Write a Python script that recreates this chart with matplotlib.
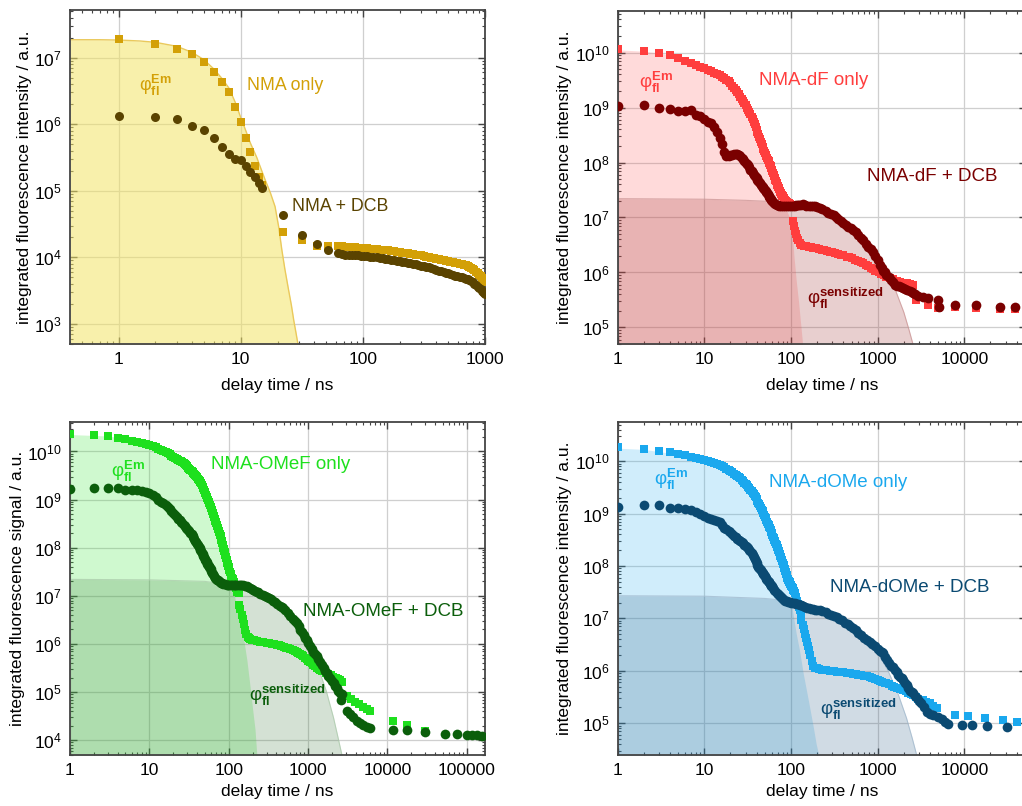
import math
import matplotlib
matplotlib.use("Agg")
import matplotlib.pyplot as plt
from matplotlib.ticker import (FixedLocator, FuncFormatter, LogFormatterMathtext,
                               NullFormatter)

plt.rcParams['font.family'] = ['Liberation Sans', 'DejaVu Sans']
plt.rcParams['mathtext.fontset'] = 'custom'
plt.rcParams['mathtext.rm'] = 'Liberation Sans'
plt.rcParams['mathtext.it'] = 'Liberation Sans:italic'
plt.rcParams['mathtext.bf'] = 'Liberation Sans:bold'

# ============ Panel 1: NMA (intensities in a.u.) ============
p1_t_only = [1, 2, 3, 4, 5, 6, 7, 8, 9, 10, 11, 12, 13, 14, 15, 22, 32, 42, 52, 62,
             67, 72, 77, 82, 87, 92, 97, 102, 108, 115, 122, 130, 137, 145, 152, 160, 170, 180,
             190, 200, 210, 220, 232, 245, 257, 270, 285, 300, 315, 330, 345, 360, 380,
             400, 420, 440, 460, 480, 500, 520, 545, 570, 595, 620, 645, 670, 695, 720, 745,
             770, 795, 820, 845, 870, 895, 920, 940, 960, 980, 1000]
p1_v_only = [1.9e7, 1.6e7, 1.36e7, 1.14e7, 8.5e6, 6.0e6, 4.3e6, 3.05e6, 1.8e6, 1.09e6,
             6.2e5, 3.8e5, 2.4e5, 1.64e5, 1.23e5, 2.4e4, 1.8e4, 1.5e4, 1.47e4, 1.5e4,
             1.47e4, 1.45e4, 1.43e4, 1.42e4, 1.41e4, 1.4e4, 1.39e4, 1.38e4, 1.37e4, 1.35e4,
             1.34e4, 1.32e4, 1.31e4, 1.3e4, 1.28e4, 1.27e4, 1.25e4, 1.24e4, 1.22e4, 1.2e4,
             1.18e4, 1.17e4, 1.15e4, 1.14e4, 1.12e4, 1.1e4, 1.09e4, 1.07e4, 1.05e4, 1.03e4,
             1.01e4, 9.9e3, 9.7e3, 9.5e3, 9.35e3, 9.2e3, 9.05e3, 8.9e3, 8.75e3, 8.6e3,
             8.45e3, 8.3e3, 8.15e3, 8.0e3, 7.9e3, 7.8e3, 7.65e3, 7.5e3, 7.25e3, 7.0e3,
             6.7e3, 6.4e3, 6.1e3, 5.8e3, 5.5e3, 5.2e3, 4.95e3, 4.7e3, 4.5e3, 4.3e3]
p1_t_dcb = [1, 2, 3, 4, 5, 6, 7, 8, 9, 10, 11, 12, 13, 14, 15, 22, 32, 42, 52, 62,
            67, 72, 77, 82, 87, 92, 97, 102, 108, 115, 122, 130, 137, 145, 152, 160, 170, 180,
            190, 200, 210, 220, 232, 245, 257, 270, 285, 300, 315, 330, 345, 360, 380,
            400, 420, 440, 460, 480, 500, 520, 545, 570, 595, 620, 645, 670, 695, 720, 745,
            770, 795, 820, 845, 870, 895, 920, 940, 960, 980, 1000]
p1_v_dcb = [1.35e6, 1.28e6, 1.19e6, 9.5e5, 8.2e5, 6.3e5, 4.6e5, 3.6e5, 3.0e5, 2.95e5,
            2.4e5, 1.95e5, 1.64e5, 1.31e5, 1.1e5, 4.4e4, 2.2e4, 1.6e4, 1.31e4, 1.17e4,
            1.12e4, 1.08e4, 1.08e4, 1.08e4, 1.07e4, 1.07e4, 1.06e4, 1.05e4, 1.04e4, 1.02e4,
            1.01e4, 1.0e4, 9.85e3, 9.7e3, 9.55e3, 9.4e3, 9.25e3, 9.1e3, 8.95e3, 8.8e3,
            8.65e3, 8.5e3, 8.35e3, 8.2e3, 8.05e3, 7.9e3, 7.7e3, 7.5e3, 7.35e3, 7.2e3,
            7.05e3, 6.9e3, 6.7e3, 6.5e3, 6.35e3, 6.2e3, 6.05e3, 5.9e3, 5.75e3, 5.6e3,
            5.45e3, 5.3e3, 5.2e3, 5.1e3, 5.0e3, 4.9e3, 4.8e3, 4.7e3, 4.55e3, 4.4e3,
            4.2e3, 4.0e3, 3.8e3, 3.6e3, 3.45e3, 3.3e3, 3.15e3, 3.0e3, 2.9e3, 2.8e3]
p1_t_em = [0.4, 0.7, 1, 1.5, 2, 3, 4, 5, 6, 7, 8, 9, 10, 11, 12, 13.5, 15.8, 17.5,
           19.1, 20.5, 21.7, 23, 24.6, 26, 27.2, 28.4, 29.5]
p1_v_em = [1.86e7, 1.86e7, 1.84e7, 1.78e7, 1.7e7, 1.48e7, 1.2e7, 9.3e6, 6.8e6, 4.9e6,
           3.5e6, 2.15e6, 1.26e6, 8.0e5, 5.2e5, 3.2e5, 1.48e5, 9.3e4, 5.8e4, 2.8e4,
           1.3e4, 6.6e3, 3.3e3, 1.9e3, 1.12e3, 7.2e2, 4.8e2]

# ============ Panel 2: NMA-dF (dense series given as log10 of intensity) ============
p2_t_only = list(range(1, 81)) + [82, 84, 86, 88, 90, 92, 94, 96, 98, 100,
             104, 108, 111, 114, 118, 121, 126, 132,
             140, 150, 160, 170, 180, 195, 210, 225, 240, 260, 281, 300, 325, 350, 375, 400,
             438, 470, 510, 550, 600, 640, 680, 730, 780, 830, 880, 930, 971, 1030, 1100,
             1180, 1260, 1380, 1500, 1650, 1800, 1970, 2150, 2350, 2570,
             2800, 3800, 4900, 7800, 13800, 25700, 38000]
p2_logv_only = [10.06, 10.03, 9.99, 9.96, 9.90, 9.855, 9.81, 9.78, 9.745, 9.716,
                9.69, 9.66, 9.635, 9.61, 9.585, 9.56, 9.535, 9.505, 9.475, 9.44,
                9.40, 9.36, 9.32, 9.28, 9.24, 9.20, 9.16, 9.12, 9.08, 9.04,
                9.00, 8.96, 8.92, 8.875, 8.83, 8.785, 8.74, 8.695, 8.65, 8.60,
                8.555, 8.51, 8.465, 8.42, 8.375, 8.33, 8.29, 8.25, 8.21, 8.17,
                8.14, 8.11, 8.08, 8.05, 8.02, 7.99, 7.96, 7.93, 7.90, 7.87,
                7.84, 7.81, 7.78, 7.75, 7.72, 7.69, 7.66, 7.63, 7.60, 7.575,
                7.55, 7.53, 7.51, 7.49, 7.47, 7.45, 7.43, 7.415, 7.40, 7.385,
                7.36, 7.34, 7.32, 7.30, 7.285, 7.27, 7.26, 7.25, 7.24, 7.23,
                6.94, 6.84, 6.76, 6.70, 6.62, 6.59, 6.53, 6.50,
                6.49, 6.48, 6.47, 6.46, 6.45, 6.44, 6.42, 6.41, 6.40, 6.39, 6.38, 6.37,
                6.355, 6.34, 6.325, 6.31, 6.29, 6.275, 6.255, 6.235, 6.21, 6.19, 6.17,
                6.14, 6.11, 6.08, 6.055, 6.035, 6.02, 6.0, 5.975, 5.95, 5.925, 5.90,
                5.875, 5.85, 5.83, 5.81, 5.80, 5.79, 5.78,
                5.50, 5.41, 5.35, 5.37, 5.36, 5.34, 5.34]
p2_t_dcb = list(range(1, 61)) + [62, 64, 66, 68, 70, 73, 76, 80, 85, 90, 95, 100, 105,
            110, 115, 120, 125, 130, 138, 145, 150, 160, 170, 180, 190, 200, 215, 230, 250,
            270, 290, 310, 330, 350, 375, 400, 430, 460, 490, 521, 560, 600, 640, 680, 730,
            780, 830, 888, 940, 1000, 1060, 1110, 1160, 1210, 1260, 1340, 1420, 1500, 1580,
            1670, 1770, 1870, 1970, 2080, 2200, 2330, 2460, 2580, 2700, 2930, 3350, 3800,
            4900, 5100, 7800, 13800, 25700, 38000]
p2_logv_dcb = [9.03, 9.04, 8.995, 8.98, 8.94, 8.94, 8.96, 8.87, 8.85, 8.80,
               8.74, 8.72, 8.65, 8.55, 8.44, 8.34, 8.20, 8.11, 8.12, 8.13,
               8.14, 8.15, 8.16, 8.16, 8.14, 8.11, 8.08, 8.06, 8.03, 8.00,
               7.98, 7.95, 7.91, 7.87, 7.84, 7.81, 7.78, 7.75, 7.73, 7.71,
               7.69, 7.67, 7.645, 7.63, 7.60, 7.58, 7.56, 7.54, 7.52, 7.50,
               7.48, 7.46, 7.44, 7.42, 7.40, 7.38, 7.35, 7.33, 7.31, 7.30,
               7.28, 7.26, 7.24, 7.23, 7.22, 7.21, 7.20, 7.20, 7.20, 7.20, 7.20, 7.20, 7.205,
               7.21, 7.22, 7.22, 7.225, 7.23, 7.24, 7.225, 7.21, 7.20, 7.21, 7.215, 7.205,
               7.19, 7.17, 7.15, 7.12, 7.09, 7.065, 7.04, 7.01, 6.98, 6.94, 6.90, 6.86,
               6.83, 6.80, 6.78, 6.73, 6.68, 6.63, 6.59, 6.52, 6.46, 6.42, 6.38, 6.30,
               6.22, 6.14, 6.08, 6.03, 6.00, 5.96, 5.91, 5.86, 5.82, 5.78, 5.76, 5.745,
               5.73, 5.72, 5.70, 5.68, 5.665, 5.65, 5.62, 5.61, 5.58, 5.56, 5.53, 5.50,
               5.38, 5.41, 5.41, 5.38, 5.37]
p2_t_em = [1, 2, 3, 4, 5, 7, 10, 14, 20, 25, 30, 35, 40, 45, 50, 55, 60, 65, 70, 75, 80,
           85, 90, 95, 100, 103, 108, 115, 122, 129, 136]
p2_v_em = [1.12e10, 1.06e10, 9.8e9, 9.0e9, 8.0e9, 6.5e9, 5.2e9, 3.9e9, 2.7e9, 1.75e9,
           1.05e9, 6.5e8, 3.9e8, 2.4e8, 1.45e8, 9.5e7, 6.8e7, 4.8e7, 3.4e7, 2.6e7, 2.0e7,
           1.6e7, 1.3e7, 1.05e7, 8.0e6, 6.0e6, 2.0e6, 7.0e5, 3.0e5, 1.2e5, 5.0e4]
p2_t_sens = [1, 10, 30, 60, 100, 150, 200, 300, 400, 500, 700, 1000, 1300, 1600, 2000, 2300, 2550]
p2_v_sens = [2.2e7, 2.15e7, 2.05e7, 1.95e7, 1.85e7, 1.65e7, 1.45e7, 1.1e7, 8.5e6, 6.8e6,
             4.2e6, 2.0e6, 1.0e6, 4.8e5, 1.9e5, 9.0e4, 5.0e4]

# ============ Panel 3: NMA-OMeF ============
p3_t_only = list(range(1, 101)) + [102, 104, 106, 108, 110, 112, 114, 116, 118, 120, 123,
             126, 129, 133, 136, 140, 146, 150, 155, 161, 167, 173, 180, 186, 195, 210, 230,
             249, 270, 300, 325, 350, 375, 403, 430, 460, 495, 530, 565, 600, 655, 690, 720,
             755, 790, 830, 875, 920, 960, 1010, 1060, 1110, 1170, 1230, 1300, 1360, 1430,
             1500, 1560, 1680, 1800, 1940, 2090, 2250, 2400, 2530, 2670,
             3090, 3500, 3930, 4400, 5000, 5500, 6070, 11700, 17600, 30000]
p3_logv_only = [10.373, 10.35, 10.317, 10.29, 10.25, 10.225, 10.2, 10.18, 10.155, 10.13,
                10.11, 10.085, 10.06, 10.03, 10.01, 9.985, 9.96, 9.94, 9.915, 9.895,
                9.875, 9.85, 9.83, 9.81, 9.795, 9.78, 9.765, 9.75, 9.72, 9.69,
                9.665, 9.64, 9.62, 9.60, 9.58, 9.56, 9.54, 9.51, 9.485, 9.46,
                9.435, 9.41, 9.385, 9.36, 9.34, 9.305, 9.27, 9.235, 9.20, 9.165,
                9.13, 9.095, 9.06, 9.025, 8.99, 8.955, 8.92, 8.885, 8.85, 8.82,
                8.79, 8.76, 8.73, 8.70, 8.665, 8.63, 8.595, 8.565, 8.535, 8.505,
                8.475, 8.445, 8.415, 8.385, 8.355, 8.325, 8.295, 8.265, 8.235, 8.205,
                8.16, 8.13, 8.10, 8.065, 8.03, 8.00, 7.97, 7.94, 7.905, 7.87,
                7.84, 7.81, 7.78, 7.75, 7.72, 7.69, 7.665, 7.64, 7.615, 7.59,
                7.54, 7.49, 7.445, 7.41, 7.38, 7.35, 7.32, 7.29, 7.26, 7.22, 7.17,
                7.12, 7.08, 7.05, 6.81, 6.72, 6.60, 6.52, 6.42, 6.29, 6.20, 6.15, 6.13,
                6.11, 6.09, 6.075, 6.06, 6.05, 6.04, 6.02, 6.01, 6.0, 5.99, 5.98, 5.97,
                5.955, 5.94, 5.925, 5.91, 5.895, 5.88, 5.86, 5.84, 5.815, 5.79, 5.77,
                5.74, 5.71, 5.68, 5.655, 5.625, 5.60, 5.57, 5.54, 5.505, 5.48, 5.46,
                5.445, 5.43, 5.40, 5.38, 5.35, 5.32, 5.295, 5.27, 5.245, 5.22,
                4.91, 4.86, 4.80, 4.75, 4.70, 4.65, 4.60, 4.39, 4.32, 4.20]
p3_t_dcb = list(range(1, 61)) + [62, 64, 66, 68, 70, 72, 74, 76, 78, 80, 83, 86, 90, 94,
            98, 102, 106, 110, 115, 120, 125, 132, 138, 145, 152, 160, 168, 176, 185, 195,
            205, 215, 225, 235, 250, 270, 285, 302, 320, 340, 360, 385, 410, 440, 465, 490,
            520, 560, 600, 640, 680, 722, 760, 800, 840, 880, 920, 966, 1010, 1060, 1110,
            1170, 1230, 1290, 1350, 1420, 1490, 1570, 1650, 1730, 1810, 1900, 2000, 2100,
            2200, 2310, 2420, 2540, 2670, 2600, 3090, 3400, 3730, 4140, 4500, 5000, 5500,
            6070, 11700, 17600, 30000, 53000, 75000, 100000, 118000, 135000, 155000]
p3_logv_dcb = [9.218, 9.25, 9.25, 9.25, 9.21, 9.20, 9.19, 9.17, 9.15, 9.13,
               9.10, 9.05, 9.00, 8.96, 8.92, 8.88, 8.84, 8.80, 8.76, 8.72,
               8.68, 8.64, 8.60, 8.57, 8.54, 8.51, 8.48, 8.45, 8.42, 8.39,
               8.365, 8.34, 8.31, 8.28, 8.25, 8.22, 8.19, 8.15, 8.11, 8.08,
               8.05, 8.02, 7.99, 7.96, 7.93, 7.90, 7.87, 7.83, 7.80, 7.77,
               7.745, 7.72, 7.695, 7.67, 7.645, 7.62, 7.595, 7.57, 7.55, 7.525,
               7.48, 7.445, 7.41, 7.38, 7.355, 7.335, 7.32, 7.305, 7.29, 7.275, 7.26, 7.25,
               7.24, 7.235, 7.23, 7.225, 7.22, 7.22, 7.225, 7.23, 7.23, 7.23, 7.225, 7.22,
               7.22, 7.215, 7.205, 7.19, 7.17, 7.15, 7.13, 7.11, 7.09, 7.07, 7.045, 7.02,
               7.0, 6.98, 6.955, 6.93, 6.90, 6.87, 6.83, 6.79, 6.77, 6.74, 6.70, 6.64,
               6.58, 6.52, 6.475, 6.43, 6.37, 6.30, 6.24, 6.18, 6.13, 6.08, 6.02, 5.96,
               5.90, 5.84, 5.79, 5.74, 5.68, 5.62, 5.56, 5.50, 5.445, 5.39, 5.34, 5.285,
               5.23, 5.18, 5.13, 5.08, 5.03, 4.99, 4.96, 4.83, 4.60, 4.54, 4.49, 4.40,
               4.35, 4.32, 4.28, 4.25, 4.22, 4.21, 4.17, 4.13, 4.12, 4.11, 4.105, 4.10, 4.095]
p3_t_em = [1, 3, 5, 10, 15, 20, 30, 40, 50, 60, 70, 80, 90, 100, 115, 130, 153, 170, 186,
           200, 215, 226]
p3_v_em = [2.25e10, 2.1e10, 1.85e10, 1.33e10, 1.02e10, 8.0e9, 5.0e9, 3.0e9, 1.5e9, 6.5e8,
           2.8e8, 1.3e8, 6.5e7, 3.2e7, 1.3e7, 4.5e6, 1.4e6, 4.5e5, 1.3e5, 4.5e4, 1.66e4, 5.0e3]
p3_t_sens = [1, 10, 50, 100, 150, 200, 300, 500, 700, 1000, 1300, 1700, 2100, 2400, 2670]
p3_v_sens = [2.2e7, 2.15e7, 2.0e7, 1.7e7, 1.45e7, 1.25e7, 9.0e6, 4.6e6, 2.4e6, 9.5e5,
             3.8e5, 1.05e5, 2.9e4, 1.1e4, 5.0e3]

# ============ Panel 4: NMA-dOMe ============
p4_t_only = list(range(1, 101)) + [102, 104, 106, 108, 111, 114, 117, 120, 123, 126, 129,
             132, 136, 140, 144, 148, 152, 157, 162, 167, 173, 180, 188, 197, 210, 230, 255,
             281, 310, 340, 370, 400, 440, 480, 520, 560, 600, 650, 700, 760, 815, 870, 930,
             1000, 1060, 1130, 1200, 1260, 1350, 1450, 1550, 1650, 1800, 1970, 2100, 2250,
             2400, 2570, 2750, 2950, 3150, 3350, 3650, 3990, 4380, 4780, 7780, 11100, 17300,
             28000, 40500]
p4_logv_only = [10.267, 10.23, 10.20, 10.17, 10.14, 10.115, 10.088, 10.07, 10.045, 10.025,
                10.005, 9.985, 9.965, 9.94, 9.92, 9.90, 9.88, 9.86, 9.835, 9.81,
                9.79, 9.765, 9.745, 9.72, 9.695, 9.67, 9.645, 9.615, 9.59, 9.565,
                9.54, 9.51, 9.485, 9.455, 9.43, 9.40, 9.37, 9.34, 9.31, 9.275,
                9.24, 9.21, 9.175, 9.14, 9.11, 9.075, 9.04, 9.01, 8.975, 8.94,
                8.91, 8.875, 8.845, 8.81, 8.78, 8.75, 8.72, 8.685, 8.655, 8.625,
                8.59, 8.56, 8.53, 8.505, 8.48, 8.45, 8.42, 8.395, 8.37, 8.34,
                8.31, 8.285, 8.26, 8.23, 8.20, 8.175, 8.15, 8.12, 8.09, 8.065,
                8.04, 8.01, 7.985, 7.96, 7.935, 7.905, 7.88, 7.855, 7.83, 7.805,
                7.78, 7.755, 7.73, 7.715, 7.70, 7.685, 7.67, 7.655, 7.64, 7.625,
                7.60, 7.575, 7.55, 7.52, 7.48, 7.41, 7.34, 7.28, 7.22, 7.16, 7.07,
                6.97, 6.88, 6.80, 6.70, 6.62, 6.55, 6.47, 6.39, 6.30, 6.18, 6.10, 6.06,
                6.05, 6.035, 6.02, 6.01, 6.0, 5.99, 5.985, 5.975, 5.97, 5.96, 5.955, 5.945,
                5.935, 5.925, 5.915, 5.905, 5.895, 5.89, 5.865, 5.845, 5.82, 5.805, 5.79,
                5.775, 5.76, 5.74, 5.715, 5.69, 5.67, 5.65, 5.635, 5.61, 5.585, 5.56, 5.54,
                5.505, 5.47, 5.445, 5.445, 5.41, 5.38, 5.33, 5.285, 5.16, 5.14, 5.10,
                5.065, 5.03]
p4_t_dcb = list(range(1, 61)) + [62, 64, 66, 68, 70, 72, 74, 76, 78, 80, 83, 86, 89, 93,
            97, 101, 105, 110, 115, 120, 126, 132, 138, 145, 152, 160, 170, 180, 190, 200,
            215, 230, 250, 270, 290, 310, 336, 360, 390, 420, 450, 485, 521, 560, 600, 650,
            700, 760, 815, 870, 930, 1000, 1060, 1110, 1160, 1220, 1290, 1360, 1430, 1510,
            1570, 1650, 1730, 1810, 1890, 1970, 2060, 2150, 2250, 2360, 2460, 2570, 2700,
            2850, 3000, 3200, 3420, 3660, 4000, 4370, 4900, 5460, 6000, 6510, 9290, 12100,
            18300, 30700]
p4_logv_dcb = [9.122, 9.166, 9.166, 9.10, 9.115, 9.09, 9.06, 9.03, 8.99, 8.95,
               8.92, 8.90, 8.885, 8.86, 8.83, 8.79, 8.73, 8.70, 8.67, 8.64,
               8.61, 8.575, 8.55, 8.52, 8.50, 8.475, 8.455, 8.43, 8.41, 8.39,
               8.365, 8.34, 8.31, 8.28, 8.244, 8.21, 8.17, 8.13, 8.09, 8.05,
               8.02, 7.99, 7.965, 7.94, 7.915, 7.89, 7.865, 7.845, 7.82, 7.80,
               7.78, 7.76, 7.74, 7.72, 7.70, 7.685, 7.665, 7.645, 7.625, 7.61,
               7.575, 7.545, 7.515, 7.485, 7.46, 7.44, 7.42, 7.40, 7.385, 7.37, 7.35, 7.335,
               7.325, 7.32, 7.31, 7.30, 7.295, 7.29, 7.28, 7.27, 7.26, 7.25, 7.23, 7.22,
               7.205, 7.19, 7.18, 7.17, 7.165, 7.16, 7.16, 7.14, 7.12, 7.09, 7.07, 7.05,
               7.03, 6.995, 6.96, 6.92, 6.89, 6.85, 6.81, 6.77, 6.725, 6.68, 6.63, 6.59,
               6.557, 6.51, 6.465, 6.42, 6.38, 6.36, 6.336, 6.27, 6.21, 6.15, 6.10, 6.08,
               6.02, 5.97, 5.92, 5.88, 5.855, 5.83, 5.77, 5.72, 5.67, 5.62, 5.59, 5.57,
               5.52, 5.48, 5.43, 5.38, 5.30, 5.22, 5.18, 5.16, 5.12, 5.08, 5.03, 4.99,
               4.97, 4.96, 4.94, 4.93]
p4_t_em = [1, 2, 5, 10, 15, 20, 30, 40, 50, 60, 70, 80, 90, 102, 115, 125, 138, 160, 180,
           195, 206, 212]
p4_v_em = [1.77e10, 1.68e10, 1.35e10, 1.03e10, 8.0e9, 6.1e9, 3.5e9, 1.8e9, 8.5e8, 3.9e8,
           1.9e8, 1.0e8, 5.2e7, 1.7e7, 5.0e6, 2.5e6, 9.0e5, 2.5e5, 8.7e4, 4.0e4, 2.7e4, 2.4e4]
p4_t_sens = [1, 10, 50, 100, 150, 200, 300, 500, 700, 1000, 1300, 1700, 2150, 2500, 2810]
p4_v_sens = [2.7e7, 2.65e7, 2.4e7, 2.15e7, 1.9e7, 1.7e7, 1.3e7, 7.7e6, 4.7e6, 2.2e6,
             1.05e6, 3.8e5, 1.25e5, 5.2e4, 2.5e4]


def unlog(vals):
    return [10.0 ** v for v in vals]


W, H = 1022, 806
fig = plt.figure(figsize=(W / 100, H / 100), dpi=100)


def make_ax(left, top, right, bottom):
    return fig.add_axes([left / W, 1 - bottom / H, (right - left) / W, (bottom - top) / H])


def log_ticks(lo, hi):
    major, minor = [], []
    for k in range(math.floor(math.log10(lo)) - 1, math.ceil(math.log10(hi)) + 1):
        for m in range(1, 10):
            v = m * 10.0 ** k
            if lo * 0.9999 <= v <= hi * 1.0001:
                (major if m == 1 else minor).append(v)
    return major, minor


def style(ax, xlim, ylim, ylabel, ylab_dx, xlab_dy=43):
    ax.set_xscale('log')
    ax.set_yscale('log')
    ax.set_xlim(*xlim)
    ax.set_ylim(*ylim)
    xm, xn = log_ticks(*xlim)
    ym, yn = log_ticks(*ylim)
    ax.xaxis.set_major_locator(FixedLocator(xm))
    ax.xaxis.set_minor_locator(FixedLocator(xn))
    ax.yaxis.set_major_locator(FixedLocator(ym))
    ax.yaxis.set_minor_locator(FixedLocator(yn))
    ax.xaxis.set_major_formatter(FuncFormatter(lambda v, p: f'{v:g}'))
    ax.xaxis.set_minor_formatter(NullFormatter())
    ax.yaxis.set_major_formatter(LogFormatterMathtext())
    ax.yaxis.set_minor_formatter(NullFormatter())
    ax.tick_params(which='both', direction='in', top=True, right=True, color='#444444')
    ax.tick_params(which='major', length=5, width=1.0, pad=6)
    ax.tick_params(which='minor', length=2.5, width=0.8)
    ax.tick_params(axis='both', labelsize=12.5)
    for s in ax.spines.values():
        s.set_color('#444444')
        s.set_linewidth(1.3)
    ax.grid(True, which='major', color='#CFCFCF', lw=0.9, zorder=0)
    ax.set_axisbelow(True)
    ax.set_xlabel('delay time / ns', fontsize=12.5, va='top')
    ax.set_ylabel(ylabel, fontsize=12.5, va='center')
    bb = ax.get_position()
    ax.xaxis.set_label_coords(0.5, -(xlab_dy - 9) / (bb.height * H))
    ax.yaxis.set_label_coords(-ylab_dx / (bb.width * W), 0.5)


def phi(ax, x, y, sup, color, size):
    ax.text(x, y, r'$\mathrm{\varphi}_{\mathbf{fl}}^{\mathbf{' + sup + '}}$',
            color=color, fontsize=size, ha='left', va='center', zorder=6)


ylab_int = 'integrated fluorescence intensity / a.u.'

# ---- Panel 1
ax1 = make_ax(70, 10, 485, 344)
style(ax1, (0.4, 1000), (5e2, 5.2e7), ylab_int, 45)
ax1.fill_between(p1_t_em, p1_v_em, 1e-3, color='#F3E466', alpha=0.55, lw=0, zorder=1)
ax1.plot(p1_t_em, p1_v_em, color='#EAC95C', lw=1.0, zorder=1.5)
ax1.plot(p1_t_only, p1_v_only, 's', color='#D3A007', ms=6, mew=0, zorder=3)
ax1.plot(p1_t_dcb, p1_v_dcb, 'o', color='#5A4300', ms=6.5, mew=0, zorder=4)
ax1.text(11.2, 3.8e6, 'NMA only', color='#D3A007', fontsize=12.8, ha='left', va='center')
ax1.text(26.2, 5.8e4, 'NMA + DCB', color='#5A4300', fontsize=12.8, ha='left', va='center')
phi(ax1, 1.47, 3.8e6, 'Em', '#D3A007', 13)

SQ, CI = 6.0, 7.0

# ---- Panel 2
ax2 = make_ax(617.7, 11, 1025.7, 344)
style(ax2, (1, 5.1e4), (5e4, 5.7e10), ylab_int, 53.7)
ax2.fill_between(p2_t_em, p2_v_em, 1e-3, color='#FF4A4A', alpha=0.2, lw=0, zorder=1)
ax2.fill_between(p2_t_sens, p2_v_sens, 1e-3, color='#A23A3A', alpha=0.24, lw=0, zorder=1.2)
ax2.plot(p2_t_sens, p2_v_sens, color='#C89090', lw=0.8, alpha=0.7, zorder=1.5)
ax2.plot(p2_t_only, unlog(p2_logv_only), 's', color='#FF3E3E', ms=SQ, mew=0, zorder=3)
ax2.plot(p2_t_dcb, unlog(p2_logv_dcb), 'o', color='#7A0000', ms=CI, mew=0, zorder=4)
ax2.text(43, 3.05e9, 'NMA-dF only', color='#FF3E3E', fontsize=13.5, ha='left', va='center')
ax2.text(751, 5.6e7, 'NMA-dF + DCB', color='#7A0000', fontsize=13.5, ha='left', va='center')
phi(ax2, 1.75, 2.9e9, 'Em', '#FF3E3E', 13.5)
phi(ax2, 152, 3.4e5, 'sensitized', '#7A0000', 13.5)

# ---- Panel 3
ax3 = make_ax(70, 422, 485, 754.7)
style(ax3, (1, 1.7e5), (5e3, 4.1e10), 'integrated fluorescence signal / a.u.', 52, 38)
ax3.fill_between(p3_t_em, p3_v_em, 1e-3, color='#3AE63A', alpha=0.24, lw=0, zorder=1)
ax3.fill_between(p3_t_sens, p3_v_sens, 1e-3, color='#3C7A3C', alpha=0.22, lw=0, zorder=1.2)
ax3.plot(p3_t_sens, p3_v_sens, color='#A8C8A8', lw=0.8, alpha=0.7, zorder=1.5)
ax3.plot(p3_t_only, unlog(p3_logv_only), 's', color='#1EE01E', ms=SQ, mew=0, zorder=3)
ax3.plot(p3_t_dcb, unlog(p3_logv_dcb), 'o', color='#0B5E0B', ms=CI, mew=0, zorder=4)
ax3.text(59.5, 5.3e9, 'NMA-OMeF only', color='#1EE01E', fontsize=13.5, ha='left', va='center')
ax3.text(875, 4.8e6, 'NMA-OMeF + DCB', color='#0B5E0B', fontsize=13.5, ha='left', va='center')
phi(ax3, 3.3, 3.8e9, 'Em', '#1EE01E', 13.5)
phi(ax3, 178, 8.5e4, 'sensitized', '#0B5E0B', 13.5)

# ---- Panel 4
ax4 = make_ax(617.7, 422, 1025.7, 754.7)
style(ax4, (1, 5.1e4), (2.5e4, 5.6e10), ylab_int, 53.7, 38)
ax4.fill_between(p4_t_em, p4_v_em, 1e-3, color='#2AB0F0', alpha=0.22, lw=0, zorder=1)
ax4.fill_between(p4_t_sens, p4_v_sens, 1e-3, color='#2C5C84', alpha=0.22, lw=0, zorder=1.2)
ax4.plot(p4_t_sens, p4_v_sens, color='#9DB5CA', lw=0.8, alpha=0.7, zorder=1.5)
ax4.plot(p4_t_only, unlog(p4_logv_only), 's', color='#1AA8EE', ms=SQ, mew=0, zorder=3)
ax4.plot(p4_t_dcb, unlog(p4_logv_dcb), 'o', color='#0B4A72', ms=CI, mew=0, zorder=4)
ax4.text(56, 3.85e9, 'NMA-dOMe only', color='#1AA8EE', fontsize=13.5, ha='left', va='center')
ax4.text(283, 3.8e7, 'NMA-dOMe + DCB', color='#0B4A72', fontsize=13.5, ha='left', va='center')
phi(ax4, 2.6, 4.4e9, 'Em', '#1AA8EE', 13.5)
phi(ax4, 218, 1.8e5, 'sensitized', '#0B4A72', 13.5)

fig.savefig('out.png', dpi=100)
